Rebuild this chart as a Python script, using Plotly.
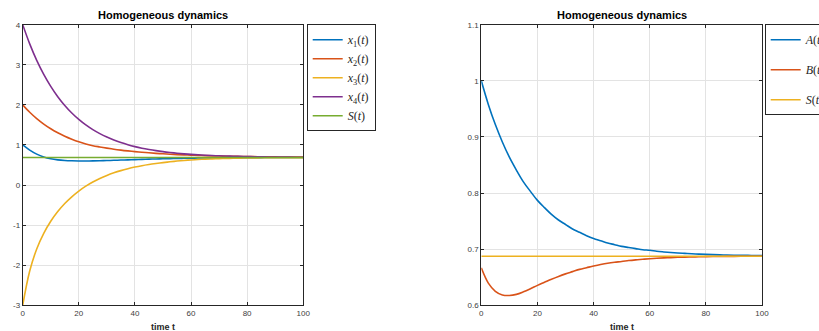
import plotly.graph_objects as go

# ---------------- data ----------------
t = [0, 2.5, 5, 7.5, 10, 12.5, 15, 17.5, 20, 22.5, 25, 27.5, 30, 32.5, 35, 37.5, 40, 42.5, 45, 47.5, 50,
     52.5, 55, 57.5, 60, 62.5, 65, 67.5, 70, 72.5, 75, 77.5, 80, 82.5, 85, 87.5, 90, 92.5, 95, 97.5, 100]

x1 = [1.0, 0.872, 0.772, 0.700, 0.655, 0.628, 0.613, 0.605, 0.601, 0.600, 0.602, 0.606, 0.611, 0.617,
      0.623, 0.629, 0.635, 0.641, 0.646, 0.651, 0.656, 0.660, 0.664, 0.667, 0.670, 0.673, 0.675, 0.677,
      0.679, 0.680, 0.682, 0.683, 0.684, 0.685, 0.685, 0.686, 0.686, 0.6865, 0.687, 0.687, 0.687]
x2 = [2.0, 1.815, 1.657, 1.521, 1.403, 1.303, 1.216, 1.142, 1.078, 1.026, 0.982, 0.950, 0.921, 0.895,
      0.872, 0.852, 0.834, 0.818, 0.804, 0.791, 0.779, 0.769, 0.760, 0.752, 0.745, 0.739, 0.733, 0.728,
      0.724, 0.720, 0.716, 0.713, 0.710, 0.708, 0.706, 0.704, 0.702, 0.700, 0.699, 0.698, 0.697]
x3 = [-3.0, -2.145, -1.594, -1.203, -0.903, -0.661, -0.461, -0.293, -0.150, -0.028, 0.075, 0.164, 0.240,
      0.305, 0.360, 0.407, 0.448, 0.483, 0.512, 0.537, 0.559, 0.580, 0.598, 0.613, 0.626, 0.637, 0.646,
      0.653, 0.659, 0.664, 0.668, 0.672, 0.675, 0.677, 0.679, 0.681, 0.682, 0.683, 0.684, 0.6845, 0.685]
x4 = [4.0, 3.521, 3.111, 2.761, 2.461, 2.204, 1.985, 1.797, 1.637, 1.499, 1.382, 1.282, 1.196, 1.122,
      1.059, 1.005, 0.959, 0.920, 0.887, 0.858, 0.833, 0.812, 0.794, 0.778, 0.765, 0.754, 0.744, 0.736,
      0.729, 0.723, 0.718, 0.714, 0.710, 0.707, 0.704, 0.701, 0.699, 0.698, 0.696, 0.695, 0.694]
S_left = [0.6875] * len(t)

A = [1.0, 0.958, 0.922, 0.891, 0.864, 0.841, 0.820, 0.803, 0.787, 0.774, 0.762, 0.752, 0.744, 0.736,
     0.730, 0.724, 0.719, 0.715, 0.711, 0.708, 0.705, 0.703, 0.701, 0.699, 0.698, 0.6963, 0.6951, 0.6941,
     0.6932, 0.6925, 0.6918, 0.6912, 0.6907, 0.6903, 0.6899, 0.6896, 0.6893, 0.6891, 0.6889, 0.6887, 0.6885]
B = [0.6667, 0.6395, 0.625, 0.6185, 0.6175, 0.6195, 0.624, 0.6295, 0.6355, 0.641, 0.6465, 0.6515, 0.656,
     0.660, 0.664, 0.667, 0.670, 0.6727, 0.675, 0.6767, 0.678, 0.6797, 0.681, 0.682, 0.683, 0.6838, 0.6845,
     0.685, 0.6855, 0.6859, 0.6862, 0.6865, 0.6867, 0.6869, 0.687, 0.6871, 0.6872, 0.6873, 0.6873, 0.6874,
     0.6874]
S_right = [0.6875] * len(t)

x_ticks = [0, 20, 40, 60, 80, 100]
left_yticks = [-3, -2, -1, 0, 1, 2, 3, 4]
left_ytext = ["-3", "-2", "-1", "0", "1", "2", "3", "4"]
right_yticks = [0.6, 0.7, 0.8, 0.9, 1.0, 1.1]
right_ytext = ["0.6", "0.7", "0.8", "0.9", "1", "1.1"]

title_text = "Homogeneous dynamics"
xlabel_text = "time t"

left_names = ["<i>x</i><sub>1</sub>(<i>t</i>)", "<i>x</i><sub>2</sub>(<i>t</i>)",
              "<i>x</i><sub>3</sub>(<i>t</i>)", "<i>x</i><sub>4</sub>(<i>t</i>)", "<i>S</i>(<i>t</i>)"]
right_names = ["<i>A</i>(<i>t</i>)", "<i>B</i>(<i>t</i>)", "<i>S</i>(<i>t</i>)"]

# ---------------- style ----------------
C = ["#0072BD", "#D95319", "#EDB120", "#7E2F8E", "#77AC30"]
W, H = 819, 331
AX = "#262626"
GRID = "#e3e3e3"
LW = 1.6

fig = go.Figure()

for name, ys, col in zip(left_names, [x1, x2, x3, x4, S_left], C):
    fig.add_trace(go.Scatter(x=t, y=ys, mode="lines", name=name, line=dict(color=col, width=LW, shape="spline"),
                             xaxis="x", yaxis="y", legend="legend"))

for i, (name, ys, col) in enumerate(zip(right_names, [A, B, S_right], C[:3])):
    fig.add_trace(go.Scatter(x=t, y=ys, mode="lines", name=name, line=dict(color=col, width=LW, shape="spline"),
                             xaxis="x2", yaxis="y2", legend="legend2", legendgroup="g%d" % i))

ydom = [(H - 305.3) / H, (H - 24.7) / H]
common_ax = dict(showline=True, linecolor=AX, linewidth=1, mirror="ticks", ticks="inside", ticklen=3,
                 tickcolor=AX, showgrid=True, gridcolor=GRID, gridwidth=1, zeroline=False,
                 tickfont=dict(family="Liberation Sans, Arial", size=8, color="#404040"))

fig.update_layout(
    width=W, height=H, margin=dict(l=0, r=0, t=0, b=0, autoexpand=False),
    paper_bgcolor="white", plot_bgcolor="white", showlegend=True,
    xaxis=dict(domain=[22.7 / W, 303.2 / W], range=[0, 100], tickvals=x_ticks, anchor="y", **common_ax),
    yaxis=dict(domain=ydom, range=[-3, 4], tickvals=left_yticks, ticktext=left_ytext, anchor="x", **common_ax),
    xaxis2=dict(domain=[481.3 / W, 762.0 / W], range=[0, 100], tickvals=x_ticks, anchor="y2", **common_ax),
    yaxis2=dict(domain=ydom, range=[0.6, 1.1], tickvals=right_yticks, ticktext=right_ytext, anchor="x2", **common_ax),
    legend=dict(x=306.7 / W, y=(H - 24.3) / H, xanchor="left", yanchor="top", bgcolor="white",
                bordercolor=AX, borderwidth=1, font=dict(family="Liberation Serif", size=12, color="#262626"),
                tracegroupgap=0),
    legend2=dict(x=764.7 / W, y=(H - 24.3) / H, xanchor="left", yanchor="top", bgcolor="white",
                 bordercolor=AX, borderwidth=1, font=dict(family="Liberation Serif", size=12, color="#262626"),
                 tracegroupgap=11),
)

annotations = []
for xc in [(22.7 + 303.2) / 2 / W, (481.3 + 762.0) / 2 / W]:
    annotations.append(dict(text="<b>%s</b>" % title_text, x=xc, y=1 - 15.3 / H, xref="paper", yref="paper",
                            xanchor="center", yanchor="middle", showarrow=False,
                            font=dict(family="Liberation Sans, Arial", size=11, color="black")))
    annotations.append(dict(text="<b>%s</b>" % xlabel_text, x=xc, y=1 - 326.5 / H, xref="paper", yref="paper",
                            xanchor="center", yanchor="middle", showarrow=False,
                            font=dict(family="Liberation Sans, Arial", size=9, color="#262626")))
fig.update_layout(annotations=annotations)

fig.write_html("out.html", config={"displayModeBar": False},
               post_script="document.body.style.margin='0';")
